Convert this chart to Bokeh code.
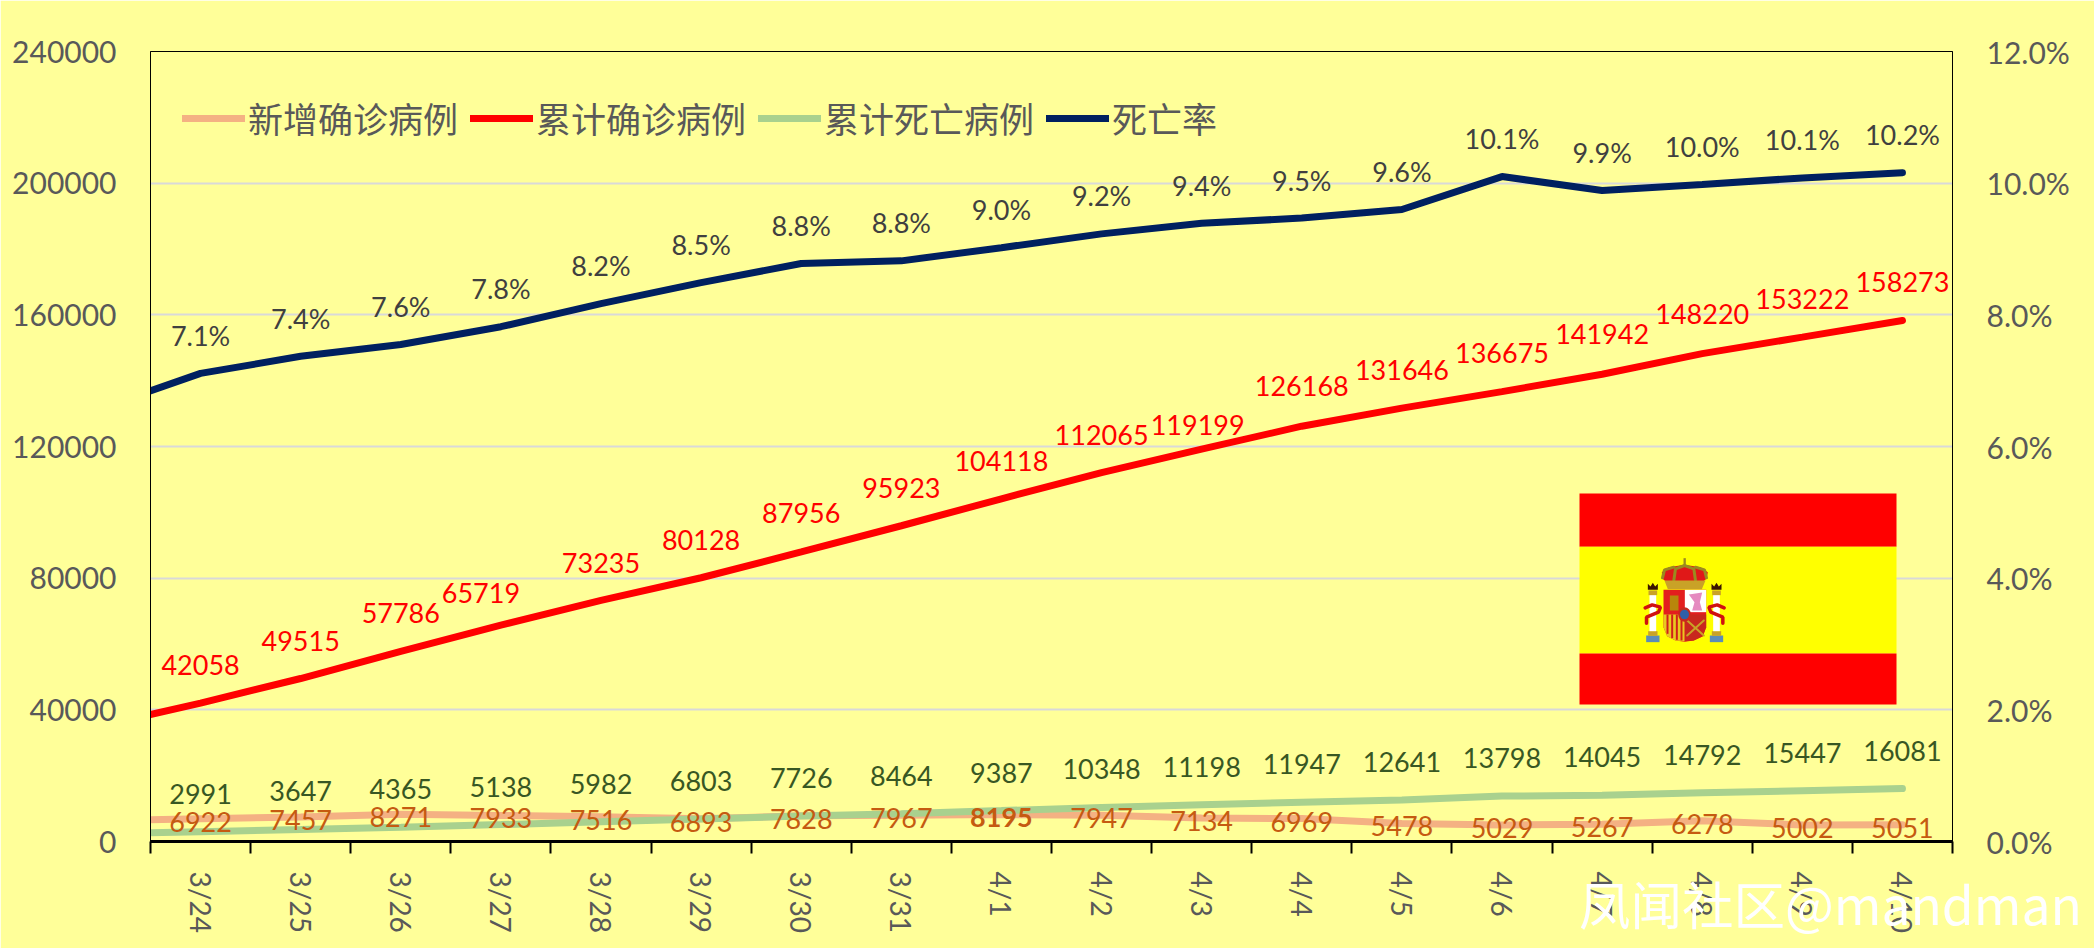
import math
from bokeh.plotting import figure
from bokeh.layouts import column
from bokeh.models import (Range1d, LinearAxis, FixedTicker, NumeralTickFormatter, Legend, LegendItem,
                          ColumnDataSource, Div)
from bokeh.core.properties import value
from bokeh.embed import file_html
from bokeh.resources import INLINE

# ---------- data ----------
categories = ["3/24","3/25","3/26","3/27","3/28","3/29","3/30","3/31","4/1","4/2","4/3","4/4","4/5","4/6","4/7","4/8","4/9","4/10"]
new_cases = [6922,7457,8271,7933,7516,6893,7828,7967,8195,7947,7134,6969,5478,5029,5267,6278,5002,5051]
total_cases = [42058,49515,57786,65719,73235,80128,87956,95923,104118,112065,119199,126168,131646,136675,141942,148220,153222,158273]
total_deaths = [2991,3647,4365,5138,5982,6803,7726,8464,9387,10348,11198,11947,12641,13798,14045,14792,15447,16081]
death_rate = [7.11,7.37,7.55,7.82,8.17,8.49,8.78,8.82,9.02,9.23,9.39,9.47,9.60,10.10,9.89,9.98,10.08,10.16]
rate_labels = ["7.1%","7.4%","7.6%","7.8%","8.2%","8.5%","8.8%","8.8%","9.0%","9.2%","9.4%","9.5%","9.6%","10.1%","9.9%","10.0%","10.1%","10.2%"]
# the lines enter from the left edge: value of the day before the first category (clipped by the frame)
prior_new, prior_total, prior_deaths, prior_rate = 6370, 35136, 2311, 6.58
series_names = ["新增确诊病例","累计确诊病例","累计死亡病例","死亡率"]
left_ticks = [0,40000,80000,120000,160000,200000,240000]
right_ticks = [0,0.02,0.04,0.06,0.08,0.10,0.12]
watermark = "凤闻社区@mandman"

# ---------- style ----------
BG="#FFFF99"; GREY="#595959"; NUM="Lato"; CJK="Noto Sans CJK SC"
W,H=2094,948
F_L,F_R,F_T,F_B=150,1952,51,841   # frame in page pixels
n=len(categories)
centers=[i+0.5 for i in range(n)]
xs=[-0.5]+centers

p=figure(width=W,height=H,output_backend="svg",toolbar_location=None,
         x_range=Range1d(0,n),y_range=Range1d(0,240000),
         background_fill_color=BG,border_fill_color=BG,
         min_border_left=F_L,min_border_right=W-F_R,min_border_top=F_T,min_border_bottom=H-F_B,
         outline_line_color="black",outline_line_width=1)
p.extra_y_ranges={"rate":Range1d(0,0.12)}

p.xgrid.visible=False
p.ygrid.ticker=FixedTicker(ticks=left_ticks)
p.ygrid.grid_line_color="#D9D9D9"; p.ygrid.grid_line_width=2

ya=p.yaxis[0]
ya.ticker=FixedTicker(ticks=left_ticks)
ya.major_tick_line_color=None; ya.minor_tick_line_color=None
ya.major_tick_out=0; ya.major_tick_in=0
ya.axis_line_color="black"; ya.axis_line_width=1
ya.major_label_text_font=NUM; ya.major_label_text_font_size="30px"; ya.major_label_text_color=GREY
ya.major_label_standoff=34
ya.formatter=NumeralTickFormatter(format="0")

ra=LinearAxis(y_range_name="rate",ticker=FixedTicker(ticks=right_ticks),formatter=NumeralTickFormatter(format="0.0%"))
ra.major_tick_line_color=None; ra.minor_tick_line_color=None
ra.major_tick_out=0; ra.major_tick_in=0
ra.axis_line_color="black"; ra.axis_line_width=1
ra.major_label_text_font=NUM; ra.major_label_text_font_size="30px"; ra.major_label_text_color=GREY
ra.major_label_standoff=34
p.add_layout(ra,"right")

xa=p.xaxis[0]
xa.ticker=FixedTicker(ticks=centers,minor_ticks=list(range(n+1)))
xa.major_label_overrides={c:l for c,l in zip(centers,categories)}
xa.major_label_orientation="vertical"
xa.major_tick_line_color=None; xa.major_tick_out=0; xa.major_tick_in=0
xa.minor_tick_line_color="black"; xa.minor_tick_line_width=2; xa.minor_tick_out=12; xa.minor_tick_in=0
xa.axis_line_color="black"; xa.axis_line_width=3
xa.major_label_text_font=NUM; xa.major_label_text_font_size="28px"; xa.major_label_text_color=GREY
xa.major_label_standoff=18

# ---------- flag (picture decoration, placed in page pixels) ----------
def X(px): return (px-F_L)/(F_R-F_L)*n
def Y(py): return (F_B-py)/(F_B-F_T)*240000
def cx(v): return X(1540+v/3)          # crop coordinates of the flag detail
def cy(v): return Y(470+v/3)
def box(x0,x1,y0,y1,c): p.quad(left=cx(x0),right=cx(x1),top=cy(y0),bottom=cy(y1),fill_color=c,line_color=None)
def poly(pts,c): p.patch([cx(a) for a,b in pts],[cy(b) for a,b in pts],fill_color=c,line_color=None)
def stroke(pts,c,w): p.line([cx(a) for a,b in pts],[cy(b) for a,b in pts],line_color=c,line_width=w,line_cap="round")

orange=p.line(xs,[prior_new]+new_cases,line_color="#F4B183",line_width=7,line_cap="round")
red=p.line(xs,[prior_total]+total_cases,line_color="#FF0000",line_width=7,line_cap="round")
green=p.line(xs,[prior_deaths]+total_deaths,line_color="#A9D18E",line_width=7,line_cap="round")
navy=p.line(xs,[prior_rate/100]+[r/100 for r in death_rate],line_color="#002060",line_width=7,line_cap="round",y_range_name="rate")

box(117,1068,69,229,"#FF0000"); box(117,1068,229,549,"#FFFF00"); box(117,1068,549,702,"#FF0000")
# pillars
for px0 in (327,518):
    box(px0-10,px0+30,495,515,"#5B8DB8")
    box(px0-4,px0+24,482,496,"#C9A227")
    box(px0,px0+20,372,482,"#FFFFFF")
    box(px0-3,px0+23,360,374,"#C9A227")
    poly([(px0-5,358),(px0-5,340),(px0+3,348),(px0+10,337),(px0+17,348),(px0+25,340),(px0+25,358)],"#3A1500")
stroke([(314,412),(335,403),(360,410),(354,425),(318,440),(318,458)],"#D01010",3.5)
stroke([(551,412),(530,403),(505,410),(511,425),(547,440),(547,458)],"#D01010",3.5)
# shield
poly([(369,358),(497,358),(497,470),(487,497),(460,510),(432,514),(405,510),(380,497),(369,470)],"#E31E1E")
box(433,497,358,425,"#FFFFFF")
poly([(433,432),(497,432),(497,470),(487,497),(460,510),(433,512)],"#C8281E")
poly([(369,432),(432,432),(432,512),(405,510),(380,497),(369,470)],"#E9C820")
for sx,sy in ((378,490),(392,503),(406,508),(420,510)):
    box(sx,sx+6,432,sy,"#D0201A")
box(388,414,375,420,"#B8860B")
poly([(445,372),(485,366),(478,395),(485,420),(455,420),(462,395)],"#E58AC0")
stroke([(440,450),(490,495)],"#C9A227",2); stroke([(490,450),(440,495)],"#C9A227",2)
p.ellipse(cx(432),cy(432),width=cx(452)-cx(414),height=cy(410)-cy(454),fill_color="#C8281E",line_color=None)
p.ellipse(cx(432),cy(432),width=cx(446)-cx(419),height=cy(418)-cy(447),fill_color="#2F5FA8",line_color=None)
# crown
poly([(366,325),(364,305),(385,290),(432,283),(480,290),(502,305),(498,325),(480,340),(385,340)],"#E01818")
stroke([(366,322),(372,298),(400,290)],"#9A8A20",3); stroke([(498,322),(492,298),(465,290)],"#9A8A20",3)
stroke([(400,330),(405,295),(432,285),(460,295),(465,330)],"#9A8A20",3)
box(429,436,263,285,"#9A8A20")
poly([(372,330),(495,330),(484,356),(382,356)],"#C9A227")

# ---------- data labels ----------
def labels(texts,ys,color,dy,y_range=None,dx=None,style=None):
    src=ColumnDataSource(dict(x=centers,y=ys,t=texts,dy=dy,dx=dx or [0]*n,s=style or ["normal"]*n))
    kw={} if y_range is None else {"y_range_name":y_range}
    p.text("x","y",text="t",source=src,text_color=color,text_font=value(NUM),text_font_size="27px",
           text_align="center",text_baseline="middle",x_offset="dx",y_offset="dy",
           text_font_style="s",**kw)

labels([str(v) for v in new_cases],new_cases,"#C55A11",[3]*n,
       style=["bold" if v==8195 else "normal" for v in new_cases])
labels([str(v) for v in total_deaths],total_deaths,"#385723",[-38]*n)
red_dy=[-38,-38,-38,-32,-37,-38,-39,-38,-38,-38,-24,-40,-38,-39,-40,-40,-38,-39]
red_dx=[0,0,0,-20,0,0,0,0,0,0,-4,0,0,0,0,0,0,0]
labels([str(v) for v in total_cases],total_cases,"#FF0000",red_dy,dx=red_dx)
labels(rate_labels,[r/100 for r in death_rate],"#404040",[-38]*n,y_range="rate")

# ---------- legend ----------
leg=Legend(items=[LegendItem(label=series_names[0],renderers=[orange]),
                  LegendItem(label=series_names[1],renderers=[red]),
                  LegendItem(label=series_names[2],renderers=[green]),
                  LegendItem(label=series_names[3],renderers=[navy])],
           orientation="horizontal",location=(32,698),background_fill_alpha=0,border_line_color=None,
           label_text_font=CJK,label_text_font_size="35px",label_text_color=GREY,
           glyph_width=63,glyph_height=40,label_standoff=3,spacing=12,padding=0,margin=0,label_height=40)
p.add_layout(leg,"center")

# ---------- watermark, laid over the figure (it crosses the frame's edge) ----------
mark=Div(text=watermark,width=515,height=70,margin=(-80,0,0,1579),
         styles={"color":"#FFFFFF","font-size":"51.5px","font-family":CJK,"line-height":"70px","white-space":"nowrap","z-index":"10"})

open("out.html","w").write(file_html(column(p,mark,spacing=0),INLINE))
